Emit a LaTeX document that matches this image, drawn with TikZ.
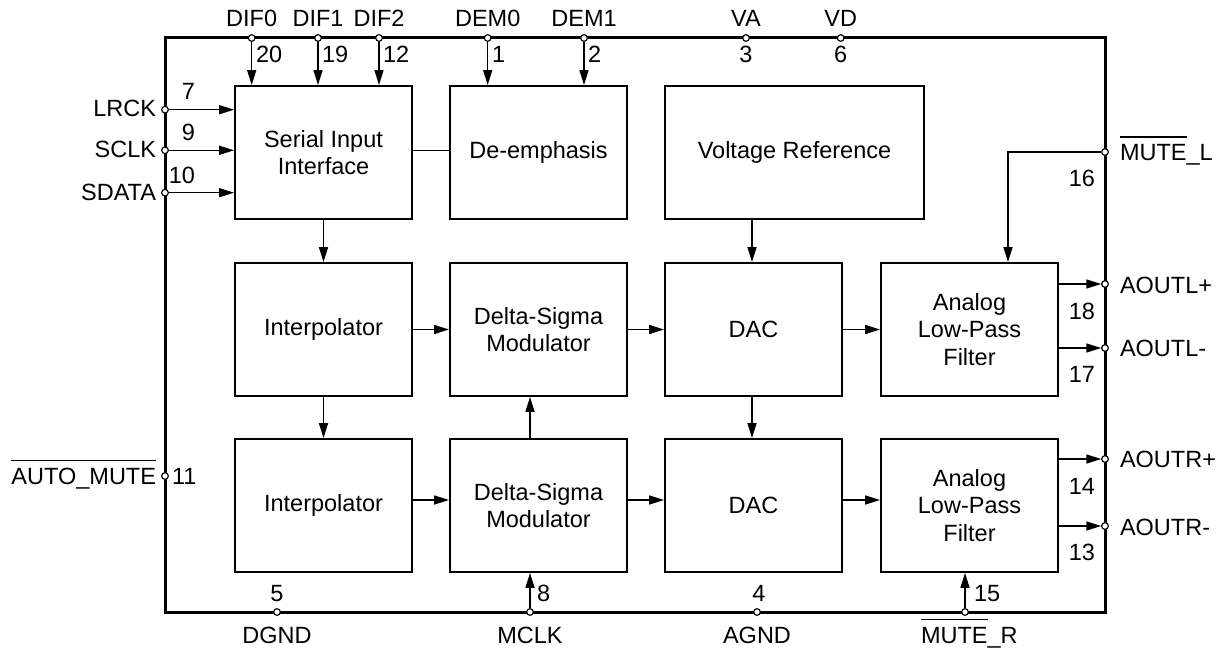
\documentclass[tikz,border=0pt]{standalone}
\usepackage{fontspec}
\setmainfont{Liberation Sans}
\usetikzlibrary{arrows.meta}
\newsavebox\ovlbox
\newcommand\ovl[1]{\sbox\ovlbox{#1}\rlap{\rule[23pt]{\wd\ovlbox}{1.4pt}}\usebox\ovlbox}
\tikzset{
  blk/.style={draw, line width=1.9pt, minimum width=177pt, minimum height=133pt, inner sep=0pt, align=center},
  pinc/.style={circle, draw, fill=white, inner sep=0pt, minimum size=6.5pt, line width=1pt},
  sig/.style={line width=1.5pt, -{Triangle[length=15pt,width=9pt]}},
  wire/.style={line width=1.5pt},
  txt/.style={inner sep=0pt, outer sep=0pt},
}
\begin{document}
\begin{tikzpicture}[x=1pt, y=-1pt, font=\fontsize{23.5}{27.5}\selectfont]
\useasboundingbox (0,0) rectangle (1225,650);
% chip outline
\node[draw, line width=3pt, minimum width=940pt, minimum height=574pt, inner sep=0pt] (chip) at (635,325) {};
% blocks
\node[blk] (sip)  at (323.5,152.5) {Serial Input\\Interface};
\node[blk] (dem)  at (538.5,152.5) {De-emphasis};
\node[blk, minimum width=259pt] (vref) at (794.5,152.5) {Voltage Reference};
\node[blk] (int1) at (323.5,329.5) {Interpolator};
\node[blk] (dsm1) at (538.5,329.5) {Delta-Sigma\\Modulator};
\node[blk] (dac1) at (753.5,329.5) {DAC};
\node[blk] (lpf1) at (969.5,329.5) {Analog\\Low-Pass\\Filter};
\node[blk] (int2) at (323.5,505.5) {Interpolator};
\node[blk] (dsm2) at (538.5,505.5) {Delta-Sigma\\Modulator};
\node[blk] (dac2) at (753.5,505.5) {DAC};
\node[blk] (lpf2) at (969.5,505.5) {Analog\\Low-Pass\\Filter};
% helper coordinates
\coordinate (xdac) at (752,0);
\coordinate (yrow3) at (0,500);
\coordinate (mlc) at (1008,152);
% pins (top)
\node[pinc] (pdif0) at (251.7,38) {};
\node[pinc] (pdif1) at (318,38) {};
\node[pinc] (pdif2) at (379,38) {};
\node[pinc] (pdem0) at (487.7,38) {};
\node[pinc] (pdem1) at (584,38) {};
\node[pinc] (pva) at (746,38) {};
\node[pinc] (pvd) at (840.7,38) {};
% pins (left)
\node[pinc] (plrck) at (165,109.7) {};
\node[pinc] (psclk) at (165,150.3) {};
\node[pinc] (psdata) at (165,192.7) {};
\node[pinc] (pamute) at (165,476) {};
% pins (right)
\node[pinc] (pmutel) at (1105,152) {};
\node[pinc] (paolp) at (1105,284) {};
\node[pinc] (paolm) at (1105,348) {};
\node[pinc] (paorp) at (1105,459) {};
\node[pinc] (paorm) at (1105,526) {};
% pins (bottom)
\node[pinc] (pdgnd) at (277,612) {};
\node[pinc] (pmclk) at (530,612) {};
\node[pinc] (pagnd) at (757,612) {};
\node[pinc] (pmuter) at (965,612) {};
% connectors
\draw[sig] (pdif0) -- (pdif0 |- sip.north);
\draw[sig] (pdif1) -- (pdif1 |- sip.north);
\draw[sig] (pdif2) -- (pdif2 |- sip.north);
\draw[sig] (pdem0) -- (pdem0 |- dem.north);
\draw[sig] (pdem1) -- (pdem1 |- dem.north);
\draw[sig] (plrck) -- (plrck -| sip.west);
\draw[sig] (psclk) -- (psclk -| sip.west);
\draw[sig] (psdata) -- (psdata -| sip.west);
\draw[wire] (sip.east |- psclk) -- (dem.west |- psclk);
\draw[sig] (sip.south) -- (int1.north);
\draw[sig] (int1.south) -- (int2.north);
\draw[sig] (int1.east) -- (dsm1.west);
\draw[sig] (dsm1.east) -- (dac1.west);
\draw[sig] (dac1.east) -- (lpf1.west);
\draw[sig] (vref.south -| xdac) -- (dac1.north -| xdac);
\draw[sig] (dac1.south -| xdac) -- (dac2.north -| xdac);
\draw[sig] (dsm2.north -| pmclk) -- (dsm1.south -| pmclk);
\draw[sig] (int2.east |- yrow3) -- (dsm2.west |- yrow3);
\draw[sig] (dsm2.east |- yrow3) -- (dac2.west |- yrow3);
\draw[sig] (dac2.east |- yrow3) -- (lpf2.west |- yrow3);
\draw[sig] (pmutel) -- (mlc) -- (mlc |- lpf1.north);
\draw[sig] (lpf1.east |- paolp) -- (paolp);
\draw[sig] (lpf1.east |- paolm) -- (paolm);
\draw[sig] (lpf2.east |- paorp) -- (paorp);
\draw[sig] (lpf2.east |- paorm) -- (paorm);
\draw[sig] (pmclk) -- (pmclk |- dsm2.south);
\draw[sig] (pmuter) -- (pmuter |- lpf2.south);
% redraw pins on top
\foreach \p in {pdif0,pdif1,pdif2,pdem0,pdem1,pva,pvd,plrck,psclk,psdata,pamute,pmutel,paolp,paolm,paorp,paorm,pdgnd,pmclk,pagnd,pmuter}
  \node[pinc] at (\p) {};
% top labels
\node[txt, anchor=base] (ldif0) at (251.7,27) {DIF0};
\node[txt, anchor=base] (ldif1) at (318,27) {DIF1};
\node[txt, anchor=base] (ldif2) at (379,27) {DIF2};
\node[txt, anchor=base] (ldem0) at (487.7,27) {DEM0};
\node[txt, anchor=base] (ldem1) at (584,27) {DEM1};
\node[txt, anchor=base] (lva) at (746,27) {VA};
\node[txt, anchor=base] (lvd) at (840.7,27) {VD};
\node[txt, anchor=base west] (n20) at (256,63) {20};
\node[txt, anchor=base west] (n19) at (322,63) {19};
\node[txt, anchor=base west] (n12) at (383,63) {12};
\node[txt, anchor=base west] (n1) at (492,63) {1};
\node[txt, anchor=base west] (n2) at (588,63) {2};
\node[txt, anchor=base] (n3) at (746,63) {3};
\node[txt, anchor=base] (n6) at (840.7,63) {6};
% left labels
\node[txt, anchor=base east] (llrck) at (156,116.7) {LRCK};
\node[txt, anchor=base east] (lsclk) at (156,157.3) {SCLK};
\node[txt, anchor=base east] (lsdata) at (156,200) {SDATA};
\node[txt, anchor=base east] (n7) at (195,100) {7};
\node[txt, anchor=base east] (n9) at (195,140) {9};
\node[txt, anchor=base east] (n10) at (195,183.3) {10};
\node[txt, anchor=base east] (lamute) at (156,484) {\ovl{AUTO\_MUTE}};
\node[txt, anchor=base west] (n11) at (172,484) {11};
% right labels
\node[txt, anchor=base west] (lmutel) at (1120,160.7) {\ovl{MUTE}\_L};
\node[txt, anchor=base west] (laolp) at (1120,293) {AOUTL+};
\node[txt, anchor=base west] (laolm) at (1120,356) {AOUTL-};
\node[txt, anchor=base west] (laorp) at (1120,467) {AOUTR+};
\node[txt, anchor=base west] (laorm) at (1120,535) {AOUTR-};
\node[txt, anchor=base east] (n16) at (1095,186) {16};
\node[txt, anchor=base east] (n18) at (1095,319) {18};
\node[txt, anchor=base east] (n17) at (1095,382) {17};
\node[txt, anchor=base east] (n14) at (1095,494) {14};
\node[txt, anchor=base east] (n13) at (1095,560) {13};
% bottom labels
\node[txt, anchor=base] (n5) at (277,601) {5};
\node[txt, anchor=base west] (n8) at (537,601) {8};
\node[txt, anchor=base] (n4) at (759,601) {4};
\node[txt, anchor=base west] (n15) at (974,601) {15};
\node[txt, anchor=base] (ldgnd) at (277,643) {DGND};
\node[txt, anchor=base] (lmclk) at (530,643) {MCLK};
\node[txt, anchor=base] (lagnd) at (757,643) {AGND};
\node[txt, anchor=base west] (lmuter) at (921,643) {\ovl{MUTE}\_R};
\end{tikzpicture}
\end{document}
